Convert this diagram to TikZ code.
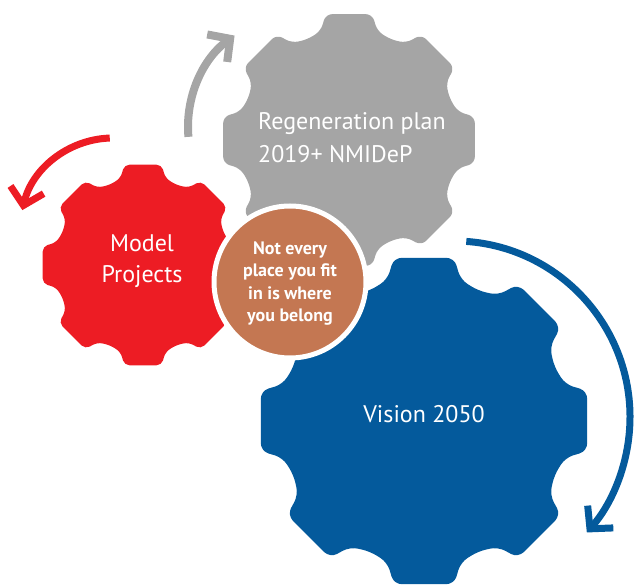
\documentclass[tikz,border=0pt]{standalone}
\usepackage{fontspec}
\setmainfont{PT Sans}
\usetikzlibrary{arrows.meta}
\definecolor{gearred}{HTML}{ED1C24}
\definecolor{geargray}{HTML}{A5A5A5}
\definecolor{gearblue}{HTML}{045A9C}
\definecolor{circbrown}{HTML}{C47752}
\newcommand\gearoutline[1]{%
  (0:{#1*cos(10.5)})
  \foreach \k in {0,...,7}{
    -- (\k*45+10.5:#1) -- (\k*45+14.5:0.88*#1) -- (\k*45+22.5:0.85*#1)
    -- (\k*45+30.5:0.88*#1) -- (\k*45+34.5:#1)
  } -- cycle}
\tikzset{
  geartext/.style={text=white, font=\fontsize{24}{33}\selectfont, inner sep=0pt},
  circtext/.style={text=white, font=\bfseries\fontsize{18}{22}\selectfont, inner sep=0pt},
  turnarrow/.style={-{Straight Barb[length=16pt,width=34pt]}, line cap=butt}
}
\begin{document}
\begin{tikzpicture}[x=1pt,y=1pt]
\useasboundingbox (0,0) rectangle (634,586);
\coordinate (gc) at (349,446);
\coordinate (rc) at (143,321);
\coordinate (bc) at (424,165);
\coordinate (ga) at (301,459);
\coordinate (ra) at (113,355);
\coordinate (ba) at (454,169);
% gears
\fill[geargray, rounded corners=6.5pt, shift={(gc)}] \gearoutline{128};
\fill[gearred, rounded corners=5pt, shift={(rc)}] \gearoutline{102};
\fill[gearblue, rounded corners=8pt, shift={(bc)}] \gearoutline{166};
% centre circle
\node[circle, fill=circbrown, draw=white, line width=5pt, minimum size=152pt, inner sep=0pt] (mid) at (290,304) {};
% arrows
\draw[turnarrow, geargray, line width=8pt] ([shift={(185:113)}]ga) arc[start angle=185, end angle=126, radius=113];
\draw[turnarrow, gearred, line width=7pt] ([shift={(92:93)}]ra) arc[start angle=92, end angle=167, radius=93];
\draw[turnarrow, gearblue, line width=7pt] ([shift={(86:176)}]ba) arc[start angle=86, end angle=-41, radius=176];
% texts
\node[geartext, anchor=base west] (g1) at (258,456) {Regeneration plan};
\node[geartext, anchor=base west] (g2) at (258,423) {2019+ NMIDeP};
\node[geartext, anchor=base] (r1) at (142,334) {Model};
\node[geartext, anchor=base] (r2) at (142,303) {Projects};
\node[geartext, anchor=base] (b1) at (424,163) {Vision 2050};
\node[circtext, anchor=base] (c1) at (290,331) {Not every};
\node[circtext, anchor=base] (c2) at (290,309) {place you fit};
\node[circtext, anchor=base] (c3) at (290,286) {in is where};
\node[circtext, anchor=base] (c4) at (290,264) {you belong};
\end{tikzpicture}
\end{document}
